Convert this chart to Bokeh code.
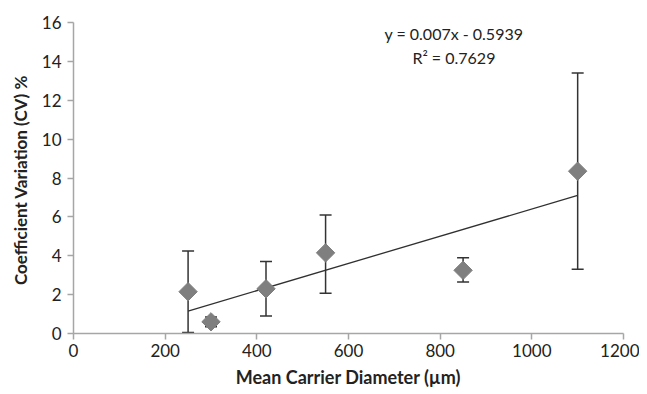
import numpy as np
from bokeh.plotting import figure
from bokeh.models import ColumnDataSource, Whisker, TeeHead, Label, Range1d, FixedTicker
from bokeh.embed import file_html
from bokeh.resources import INLINE

diameter = [250, 300, 420, 550, 850, 1100]
cv_mean = [2.15, 0.6, 2.3, 4.15, 3.25, 8.35]
cv_upper = [4.25, 0.85, 3.7, 6.1, 3.9, 13.4]
cv_lower = [0.05, 0.35, 0.9, 2.07, 2.65, 3.3]
trend_slope = 0.007
trend_intercept = -0.5939
r_squared = 0.7629
x_ticks = [0, 200, 400, 600, 800, 1000, 1200]
y_ticks = [0, 2, 4, 6, 8, 10, 12, 14, 16]

FONT = "Lato"

p = figure(width=639, height=392, output_backend="svg", toolbar_location=None,
           x_range=Range1d(0, 1200), y_range=Range1d(0, 16),
           min_border_left=73, min_border_right=16, min_border_top=22, min_border_bottom=59)
p.outline_line_color = None
p.grid.visible = False
p.background_fill_color = "white"

src = ColumnDataSource(dict(x=diameter, y=cv_mean, upper=cv_upper, lower=cv_lower))

tx = [min(diameter), max(diameter)]
ty = [trend_slope * v + trend_intercept for v in tx]
p.line(tx, ty, line_color="#303030", line_width=1.3)

w = Whisker(source=src, base="x", upper="upper", lower="lower",
            line_color="#333333", line_width=1.5,
            upper_head=TeeHead(size=12, line_color="#333333", line_width=1.5),
            lower_head=TeeHead(size=12, line_color="#333333", line_width=1.5))
p.add_layout(w)

p.scatter("x", "y", source=src, marker="square", size=13, angle=np.pi / 4,
          fill_color="#7f7f7f", line_color="#7f7f7f")

for ax in (p.xaxis[0], p.yaxis[0]):
    ax.axis_line_color = "#a6a6a6"
    ax.axis_line_width = 1.5
    ax.major_tick_line_color = "#a6a6a6"
    ax.major_tick_line_width = 1.5
    ax.major_tick_out = 6
    ax.major_tick_in = 0
    ax.minor_tick_line_color = None
    ax.major_label_text_font = FONT
    ax.major_label_text_font_size = "17px"
    ax.major_label_text_color = "#222222"
    ax.axis_label_text_font = FONT
    ax.axis_label_text_font_style = "bold"
    ax.axis_label_text_color = "#222222"

p.xaxis.axis_label_text_font_size = "18px"
p.yaxis.axis_label_text_font_size = "17px"
p.xaxis.ticker = FixedTicker(ticks=x_ticks)
p.yaxis.ticker = FixedTicker(ticks=y_ticks)
p.xaxis.axis_label = "Mean Carrier Diameter (µm)"
p.yaxis.axis_label = "Coefficient Variation  (CV) %"
p.xaxis.major_label_standoff = 4
p.yaxis.major_label_standoff = 6
p.xaxis.axis_label_standoff = 6
p.yaxis.axis_label_standoff = 8

p.add_layout(Label(x=830, y=15.45, text=f"y = {trend_slope}x - {abs(trend_intercept)}",
                   text_align="center", text_baseline="middle",
                   text_font=FONT, text_font_size="16px", text_color="#222222"))
p.add_layout(Label(x=830, y=14.2, text=f"R² = {r_squared}",
                   text_align="center", text_baseline="middle",
                   text_font=FONT, text_font_size="16px", text_color="#222222"))

open("out.html", "w").write(file_html(p, INLINE))
